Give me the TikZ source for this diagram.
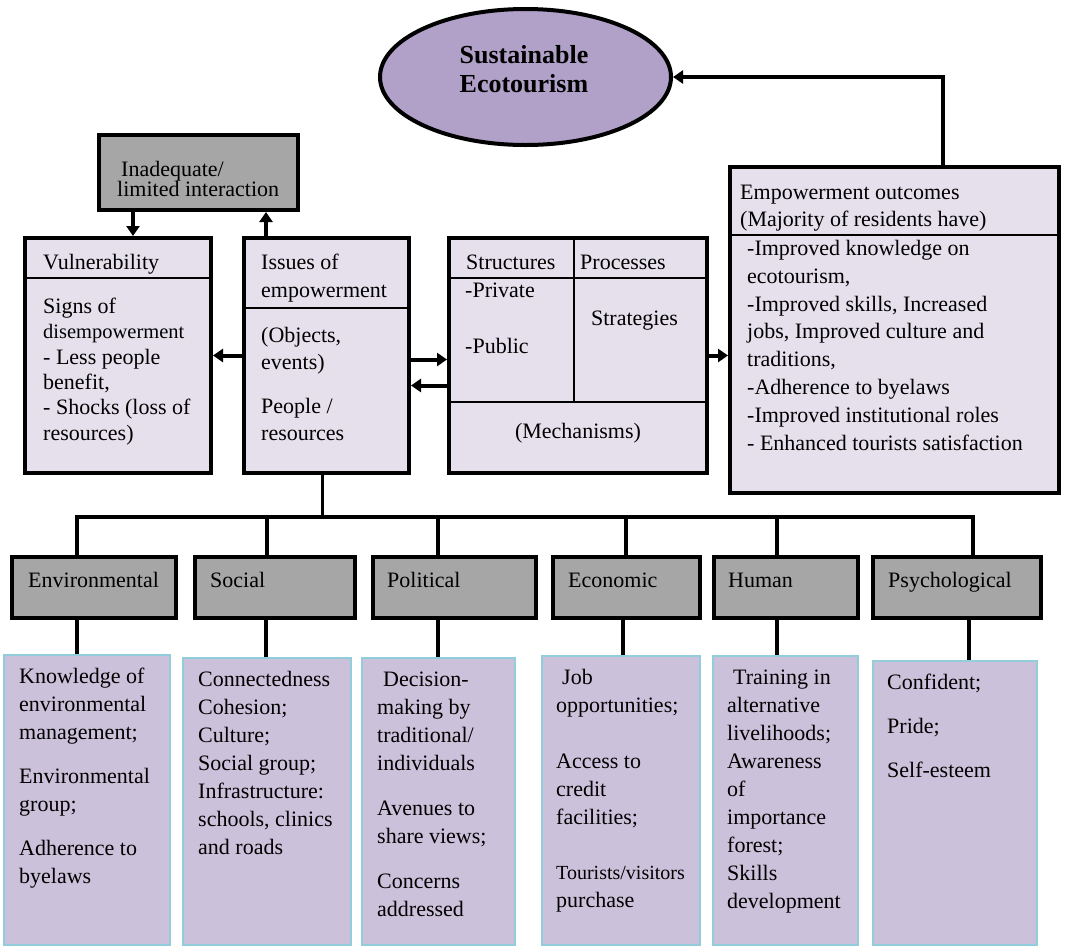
\documentclass[tikz,border=0pt]{standalone}
\usepackage{fontspec}
\setmainfont{Liberation Serif}
\usetikzlibrary{arrows.meta,calc,shapes.geometric}
\definecolor{lav}{HTML}{E5E0EC}
\definecolor{catgray}{HTML}{A6A6A6}
\definecolor{ellc}{HTML}{B1A0C7}
\definecolor{leaffill}{HTML}{CCC1DA}
\definecolor{leafedge}{HTML}{92CDDC}
\newcommand\toprl{\rule{0pt}{16pt}}
\begin{document}
\begin{tikzpicture}[x=1pt,y=-1pt,
  bigbox/.style={draw=black, line width=4pt, fill=lav, inner sep=0pt, anchor=north west},
  catbox/.style={draw=black, line width=4pt, fill=catgray, inner sep=0pt, anchor=north west, minimum height=61pt},
  leafbox/.style={draw=leafedge, line width=2pt, fill=leaffill, inner sep=0pt, anchor=north west},
  txt/.style={font=\fontsize{22}{28}\selectfont, align=left, inner sep=0pt, anchor=north west},
  conn/.style={line width=3.6pt, line join=miter},
  arr/.style={line width=4pt, line join=miter, -{Triangle[length=10pt,width=13pt]}},
  div/.style={line width=1.3pt}]
\fill[white] (0,0) rectangle (1065,948);
\useasboundingbox (0,0) rectangle (1065,948);

% ellipse
\node[ellipse, draw, line width=4pt, fill=ellc, minimum width=291pt, minimum height=136pt, inner sep=0pt] (se) at (525.5,77) {};
\node[font=\bfseries\fontsize{26}{29}\selectfont, align=left, inner sep=0pt, anchor=north] (setxt) at (524,44) {\rule{0pt}{19pt}Sustainable\\Ecotourism};

% upper boxes
\node[catbox, minimum width=199pt, minimum height=75pt] (inad) at (97,133) {};
\node[bigbox, minimum width=186pt, minimum height=235pt] (vuln) at (23,236) {};
\node[bigbox, minimum width=165pt, minimum height=235pt] (issues) at (242,236) {};
\node[bigbox, minimum width=258pt, minimum height=235pt] (struct) at (447,236) {};
\node[bigbox, minimum width=329pt, minimum height=326pt] (outc) at (728,165) {};

% dividers
\draw[div] ($(vuln.north west)+(0,42)$) -- ($(vuln.north east)+(0,42)$);
\draw[div] ($(issues.north west)+(0,72)$) -- ($(issues.north east)+(0,72)$);
\draw[div] ($(struct.north west)+(0,42)$) -- ($(struct.north east)+(0,42)$);
\draw[div] ($(struct.north west)+(127,0)$) -- ($(struct.north west)+(127,166)$);
\draw[div] ($(struct.north west)+(0,166)$) -- ($(struct.north east)+(0,166)$);
\draw[div] ($(outc.north west)+(0,70)$) -- ($(outc.north east)+(0,70)$);

% upper texts
\node[txt, font=\fontsize{22}{20}\selectfont] (tinad) at (117,160) {\toprl\hspace*{4pt}Inadequate/\\limited interaction};
\node[txt] (tvul1) at (43,253) {\toprl Vulnerability};
\node[txt, font=\fontsize{22}{25.4}\selectfont] (tvul2) at (43,297) {\toprl Signs of\\{\fontsize{20.5}{25.4}\selectfont disempowerment}\\- Less people\\benefit,\\- Shocks (loss of\\resources)};
\node[txt] (tiss1) at (261,253) {\toprl Issues of\\empowerment};
\node[txt, font=\fontsize{22}{27}\selectfont] (tiss2) at (261,326) {\toprl(Objects,\\events)\\[17pt]People /\\resources};
\node[txt] (tstr1) at (466,253) {\toprl Structures};
\node[txt] (tstr2) at (580,253) {\toprl Processes};
\node[txt] (tstr3) at (465,281) {\toprl -Private};
\node[txt] (tstr4) at (465,337) {\toprl -Public};
\node[txt, anchor=north] (tstr5) at (634.5,309) {\toprl Strategies};
\node[txt, anchor=north] (tstr6) at (578,422) {\toprl(Mechanisms)};
\node[txt, font=\fontsize{22}{27}\selectfont] (tout1) at (740,183) {\toprl Empowerment outcomes\\(Majority of residents have)};
\node[txt, font=\fontsize{22}{27.9}\selectfont] (tout2) at (747,239) {\toprl -Improved knowledge on\\ecotourism,\\-Improved skills, Increased\\jobs, Improved culture and\\traditions,\\-Adherence to byelaws\\-Improved institutional roles\\- Enhanced tourists satisfaction};

% connectors upper
\draw[arr] ($(outc.north west)+(215,0)$) |- (se.east);
\draw[arr] ($(inad.south west)+(36,0)$) coordinate (a1) -- (a1 |- vuln.north);
\draw[arr] ($(issues.north west)+(24,0)$) coordinate (a2) -- (a2 |- inad.south);
\draw[arr] (issues.west) -- (issues.west -| vuln.east);
\draw[arr] ($(issues.east)+(0,4)$) coordinate (b1) -- (b1 -| struct.west);
\draw[arr] ($(struct.west)+(0,30)$) coordinate (b2) -- (b2 -| issues.east);
\draw[arr] (struct.east) -- (struct.east -| outc.west);

% category boxes
\node[catbox, minimum width=164pt] (env) at (10,555) {};
\node[catbox, minimum width=160pt] (soc) at (193,555) {};
\node[catbox, minimum width=163pt] (pol) at (371,555) {};
\node[catbox, minimum width=147pt] (eco) at (551,555) {};
\node[catbox, minimum width=144pt] (hum) at (712,555) {};
\node[catbox, minimum width=168pt] (psy) at (871,555) {};
\node[txt] (tenv) at (28,571) {\toprl Environmental};
\node[txt] (tsoc) at (210,571) {\toprl Social};
\node[txt] (tpol) at (387,571) {\toprl Political};
\node[txt] (teco) at (568,571) {\toprl Economic};
\node[txt] (thum) at (728,571) {\toprl Human};
\node[txt] (tpsy) at (888,571) {\toprl Psychological};

% leaf boxes
\node[leafbox, minimum width=166pt, minimum height=290pt] (lenv) at (3,654) {};
\node[leafbox, minimum width=168pt, minimum height=287pt] (lsoc) at (182,657) {};
\node[leafbox, minimum width=153pt, minimum height=287pt] (lpol) at (361,657) {};
\node[leafbox, minimum width=158pt, minimum height=289pt] (leco) at (541,655) {};
\node[leafbox, minimum width=145pt, minimum height=289pt] (lhum) at (712,655) {};
\node[leafbox, minimum width=164pt, minimum height=284pt] (lpsy) at (872,660) {};

\node[txt] (tlenv) at (19,667) {\toprl Knowledge of\\environmental\\management;\\[16pt]Environmental\\group;\\[16pt]Adherence to\\byelaws};
\node[txt] (tlsoc) at (198,670) {\toprl Connectedness\\Cohesion;\\Culture;\\Social group;\\Infrastructure:\\schools, clinics\\and roads};
\node[txt] (tlpol) at (377,670) {\toprl\hspace*{6pt}Decision-\\making by\\traditional/\\individuals\\[17pt]Avenues to\\share views;\\[17pt]Concerns\\addressed};
\node[txt] (tleco) at (556,668) {\toprl\hspace*{6pt}Job\\opportunities;\\[28pt]Access to\\credit\\facilities;\\[27pt]{\fontsize{20}{28}\selectfont Tourists/visitors}\\purchase};
\node[txt] (tlhum) at (727,668) {\toprl\hspace*{6pt}Training in\\alternative\\livelihoods;\\Awareness\\of\\importance\\forest;\\Skills\\development};
\node[txt] (tlpsy) at (887,673) {\toprl Confident;\\[16pt]Pride;\\[16pt]Self-esteem};

% tree
\coordinate (top) at ($(issues.south)+(-4,0)$);
\coordinate (bar) at ($(issues.south)+(-4,42)$);
\coordinate (t1) at ($(env.north west)+(67,0)$);
\coordinate (t2) at ($(soc.north west)+(74,0)$);
\coordinate (t3) at ($(pol.north west)+(67,0)$);
\coordinate (t4) at ($(eco.north west)+(75,0)$);
\coordinate (t5) at ($(hum.north west)+(65,0)$);
\coordinate (t6) at ($(psy.north west)+(102,0)$);
\draw[conn] (top) -- (bar);
\draw[conn] (t1) |- (bar) -| (t6);
\foreach \t in {t2,t3,t4,t5} \draw[conn] (\t) -- (\t |- bar);
\draw[conn] ($(env.south west)+(67,0)$) coordinate (u1) -- (u1 |- lenv.north);
\draw[conn] ($(soc.south west)+(73,0)$) coordinate (u2) -- (u2 |- lsoc.north);
\draw[conn] ($(pol.south west)+(67,0)$) coordinate (u3) -- (u3 |- lpol.north);
\draw[conn] ($(eco.south west)+(72,0)$) coordinate (u4) -- (u4 |- leco.north);
\draw[conn] ($(hum.south west)+(65,0)$) coordinate (u5) -- (u5 |- lhum.north);
\draw[conn] ($(psy.south west)+(98,0)$) coordinate (u6) -- (u6 |- lpsy.north);
\end{tikzpicture}
\end{document}
